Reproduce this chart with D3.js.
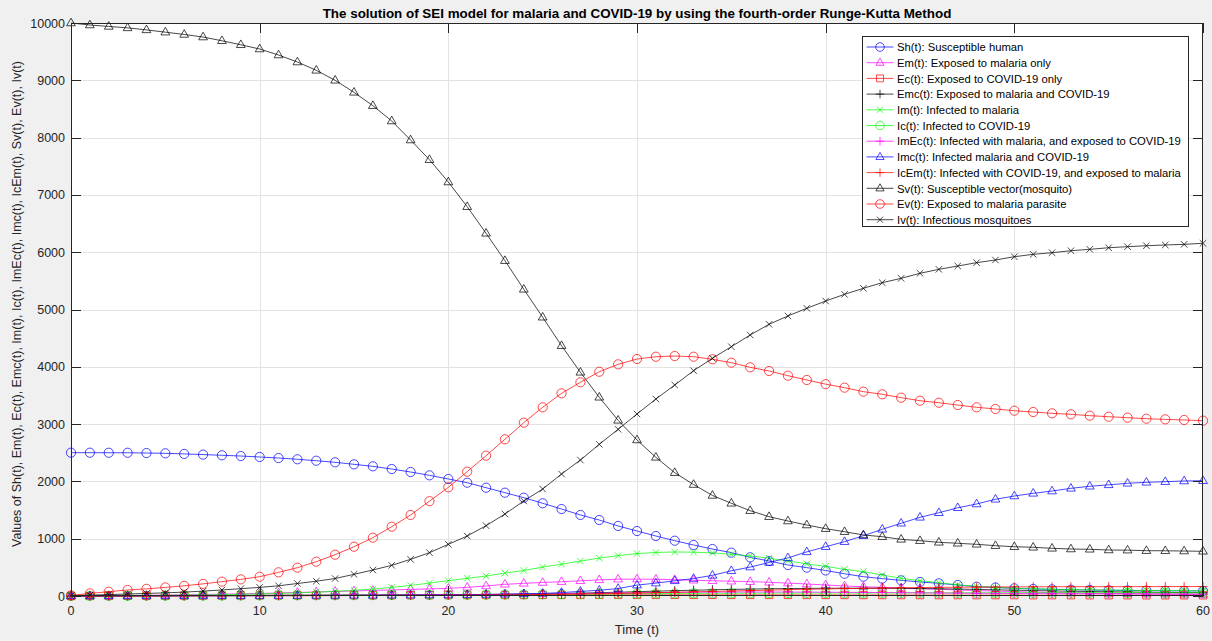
<!DOCTYPE html>
<html>
<head>
<meta charset="utf-8">
<script src="https://cdn.jsdelivr.net/npm/d3@7"></script>
<style>
  body { margin: 0; background: #f0f0f0; }
  svg { display: block; font-family: "Liberation Sans", Arial, Helvetica, sans-serif; }
</style>
</head>
<body>
<div id="chart"></div>
<script>
// time steps (t = 0 .. 60)
var time = d3.range(0, 61);
var xTicks = [0, 10, 20, 30, 40, 50, 60];
var yTicks = [0, 1000, 2000, 3000, 4000, 5000, 6000, 7000, 8000, 9000, 10000];

// values
var Sh = [2501,2501,2500,2500,2495,2490,2480,2468,2456,2443,2426,2408,2386,2361,2333,2298,2263,2216,2164,2106,
  2042,1977,1890,1803,1716,1618,1518,1414,1326,1222,1134,1047,965,890,820,756,675,611,541,495,
  445,388,337,303,273,245,221,192,162,148,134,122,116,110,105,100,97,94,91,89,87];
var Em = [0,2,5,8,12,16,21,26,32,38,45,53,61,70,79,88,97,106,115,124,
  134,151,175,204,221,235,250,265,282,293,295,292,285,275,266,258,250,239,225,210,
  192,175,162,150,140,128,117,105,95,85,76,68,61,55,50,45,41,37,33,30,28];
var Ec = [0,1,2,3,4,5,6,7,8,9,10,11,12,12,13,14,14,15,16,16,
  17,17,18,18,18,19,19,19,20,20,20,20,20,20,20,19,19,19,19,18,
  18,18,17,17,17,16,16,16,15,15,15,14,14,14,13,13,13,12,12,12,12];
var Emc = [0,1,2,3,4,5,6,7,8,9,10,11,12,13,14,15,16,17,18,20,
  22,24,27,30,34,38,43,50,58,66,75,84,93,101,108,115,121,126,130,133,
  135,136,136,135,133,130,126,121,115,108,101,95,89,83,78,74,70,66,63,60,58];
var Im = [0,2,4,6,8,11,14,18,23,29,36,45,55,67,82,100,122,150,185,225,
  267,309,349,400,445,505,555,610,660,705,740,760,768,765,752,728,698,660,611,560,
  517,466,424,366,309,267,232,195,170,150,135,125,118,112,107,103,100,97,95,93,91];
var Ic = [0,1,2,3,4,5,6,7,8,9,10,11,12,13,14,15,16,17,18,19,
  20,22,24,26,28,30,32,34,36,39,42,44,46,47,48,49,50,51,51,52,
  52,53,53,54,54,55,55,55,56,56,56,56,56,56,56,55,55,55,55,55,55];
var ImEc = [0,1,2,3,4,5,6,7,8,9,10,11,12,13,14,15,16,18,19,21,
  23,25,27,30,33,36,40,44,48,52,56,60,63,66,68,69,70,70,69,68,
  66,64,62,60,57,55,52,50,48,46,44,42,41,40,39,38,37,36,35,34,33];
var Imc = [0,0,1,1,2,2,3,3,4,5,6,7,8,9,10,11,12,14,15,17,
  19,22,26,31,37,45,60,80,100,130,190,225,265,305,360,440,505,585,665,770,
  860,948,1052,1164,1269,1373,1453,1540,1606,1688,1745,1792,1832,1879,1915,1940,1967,1984,1995,2007,2012];
var IcEm = [0,0,1,1,1,2,2,3,3,4,4,5,5,6,7,8,9,10,11,12,
  14,16,18,20,23,26,30,35,40,46,52,58,65,72,80,88,95,102,110,117,
  123,129,134,139,143,147,150,153,155,157,159,160,161,162,162,163,163,164,164,165,165];
var Sv = [10000,9965,9940,9915,9880,9840,9800,9755,9690,9620,9546,9441,9319,9174,9000,8790,8557,8290,7958,7614,
  7225,6794,6330,5852,5352,4865,4368,3904,3468,3066,2723,2420,2152,1945,1755,1618,1489,1384,1309,1239,
  1175,1122,1065,1035,989,965,937,920,902,878,860,850,832,820,815,803,800,791,789,785,780];
var Ev = [10,45,75,105,125,150,178,212,250,290,337,413,494,599,721,860,1018,1210,1414,1655,
  1897,2170,2449,2735,3025,3293,3537,3729,3914,4043,4136,4176,4188,4176,4131,4072,3991,3927,3845,3770,
  3697,3636,3566,3520,3461,3408,3373,3333,3293,3264,3234,3211,3188,3171,3147,3129,3112,3094,3083,3072,3060];
var Iv = [5,15,25,35,45,55,68,85,105,128,150,178,218,258,305,378,454,535,640,756,
  902,1047,1227,1431,1658,1867,2129,2373,2647,2909,3176,3438,3682,3932,4148,4351,4555,4742,4887,5021,
  5148,5265,5370,5468,5544,5632,5701,5759,5817,5864,5921,5963,5991,6026,6050,6078,6096,6113,6126,6137,6155];

var seriesNames = [
  'Sh(t): Susceptible human',
  'Em(t): Exposed to malaria only',
  'Ec(t): Exposed to COVID-19 only',
  'Emc(t): Exposed to malaria and COVID-19',
  'Im(t): Infected to malaria',
  'Ic(t): Infected to COVID-19',
  'ImEc(t): Infected with malaria, and exposed to COVID-19',
  'Imc(t): Infected malaria and COVID-19',
  'IcEm(t): Infected with COVID-19, and exposed to malaria',
  'Sv(t): Susceptible vector(mosquito)',
  'Ev(t): Exposed to malaria parasite',
  'Iv(t): Infectious mosquitoes'
];

var width = 1212, height = 641;
var margin = {top: 23, right: 9, bottom: 45, left: 71};

var series = [
  {values: Sh,   color: '#0000ff', marker: 'o'},
  {values: Em,   color: '#ff00ff', marker: '^'},
  {values: Ec,   color: '#ff0000', marker: 's'},
  {values: Emc,  color: '#000000', marker: '+'},
  {values: Im,   color: '#00ff00', marker: 'x'},
  {values: Ic,   color: '#00ff00', marker: 'o'},
  {values: ImEc, color: '#ff00ff', marker: '+'},
  {values: Imc,  color: '#0000ff', marker: '^'},
  {values: IcEm, color: '#ff0000', marker: '+'},
  {values: Sv,   color: '#000000', marker: '^'},
  {values: Ev,   color: '#ff0000', marker: 'o'},
  {values: Iv,   color: '#000000', marker: 'x'}
];
series.forEach(function(s, i) { s.name = seriesNames[i]; });

var svg = d3.select('#chart').append('svg')
  .attr('width', width)
  .attr('height', height);

svg.append('rect').attr('width', width).attr('height', height).attr('fill', '#f0f0f0');

var x = d3.scaleLinear().domain([0, 60]).range([margin.left, width - margin.right]);
var y = d3.scaleLinear().domain([0, 10000]).range([height - margin.bottom, margin.top]);

var x0 = x.range()[0], x1 = x.range()[1], y0 = y.range()[0], y1 = y.range()[1];

// plot area
svg.append('rect')
  .attr('x', x0).attr('y', y1)
  .attr('width', x1 - x0).attr('height', y0 - y1)
  .attr('fill', '#ffffff');

// grid
var grid = svg.append('g').attr('stroke', '#e3e3e3').attr('stroke-width', 1);
grid.selectAll('.gx').data(xTicks.slice(1, -1)).enter().append('line')
  .attr('x1', d => Math.round(x(d)) + 0.5).attr('x2', d => Math.round(x(d)) + 0.5)
  .attr('y1', y1).attr('y2', y0);
grid.selectAll('.gy').data(yTicks.slice(1, -1)).enter().append('line')
  .attr('y1', d => Math.round(y(d)) + 0.5).attr('y2', d => Math.round(y(d)) + 0.5)
  .attr('x1', x0).attr('x2', x1);

// marker shapes, matlab style
function markerPath(m, r) {
  if (m === 'o') return d3.symbol().type(d3.symbolCircle).size(Math.PI * r * r)();
  if (m === '^') return 'M0,' + (-r * 1.05) + 'L' + (r * 0.95) + ',' + (r * 0.6) + 'L' + (-r * 0.95) + ',' + (r * 0.6) + 'Z';
  if (m === 's') return 'M' + (-r * 0.8) + ',' + (-r * 0.8) + 'h' + (r * 1.6) + 'v' + (r * 1.6) + 'h' + (-r * 1.6) + 'Z';
  if (m === '+') return 'M' + (-r) + ',0H' + r + 'M0,' + (-r) + 'V' + r;
  if (m === 'x') return 'M' + (-r * 0.7) + ',' + (-r * 0.7) + 'L' + (r * 0.7) + ',' + (r * 0.7) +
    'M' + (-r * 0.7) + ',' + (r * 0.7) + 'L' + (r * 0.7) + ',' + (-r * 0.7);
}

var line = d3.line()
  .x(function(d, i) { return x(time[i]); })
  .y(function(d) { return y(d); });

var plot = svg.append('g');
series.forEach(function(s) {
  var g = plot.append('g');
  g.append('path')
    .attr('d', line(s.values))
    .attr('fill', 'none')
    .attr('stroke', s.color)
    .attr('stroke-opacity', 0.8)
    .attr('stroke-width', 0.9);
  g.selectAll('.m').data(s.values).enter().append('path')
    .attr('transform', function(d, i) { return 'translate(' + x(time[i]) + ',' + y(d) + ')'; })
    .attr('d', markerPath(s.marker, 4.6))
    .attr('fill', 'none')
    .attr('stroke', s.color)
    .attr('stroke-opacity', 0.8)
    .attr('stroke-width', 0.9);
});

// axes box + ticks (inward, on all four sides)
var axisColor = '#262626';
var ax = svg.append('g').attr('stroke', axisColor).attr('stroke-width', 1).attr('fill', 'none');
ax.append('rect')
  .attr('x', x0 + 0.5).attr('y', y1 + 0.5)
  .attr('width', x1 - x0 - 1).attr('height', y0 - y1 - 1);
xTicks.forEach(function(t) {
  var px = Math.round(x(t)) + 0.5;
  ax.append('line').attr('x1', px).attr('x2', px).attr('y1', y0).attr('y2', y0 - 10);
  ax.append('line').attr('x1', px).attr('x2', px).attr('y1', y1).attr('y2', y1 + 10);
});
yTicks.forEach(function(t) {
  var py = Math.round(y(t)) + 0.5;
  ax.append('line').attr('x1', x0).attr('x2', x0 + 10).attr('y1', py).attr('y2', py);
  ax.append('line').attr('x1', x1).attr('x2', x1 - 10).attr('y1', py).attr('y2', py);
});

// tick labels
svg.append('g').selectAll('text').data(xTicks).enter().append('text')
  .attr('x', d => x(d)).attr('y', y0 + 19)
  .attr('text-anchor', 'middle')
  .attr('font-size', '12.5px').attr('fill', axisColor)
  .text(d => d);
svg.append('g').selectAll('text').data(yTicks).enter().append('text')
  .attr('x', x0 - 6).attr('y', d => y(d) + 4.5)
  .attr('text-anchor', 'end')
  .attr('font-size', '12.5px').attr('fill', axisColor)
  .text(d => d);

// labels + title
svg.append('text')
  .attr('x', (x0 + x1) / 2).attr('y', 634)
  .attr('text-anchor', 'middle')
  .attr('font-size', '13px').attr('fill', axisColor)
  .text('Time (t)');
svg.append('text')
  .attr('transform', 'translate(21,' + 304 + ') rotate(-90)')
  .attr('text-anchor', 'middle')
  .attr('font-size', '12.5px').attr('fill', axisColor)
  .text('Values of Sh(t), Em(t), Ec(t), Emc(t), Im(t), Ic(t), ImEc(t), Imc(t), IcEm(t), Sv(t), Ev(t), Iv(t)');
svg.append('text')
  .attr('x', (x0 + x1) / 2).attr('y', 18)
  .attr('text-anchor', 'middle')
  .attr('font-size', '13.4px').attr('font-weight', 'bold').attr('fill', '#000')
  .text('The solution of SEI model for malaria and COVID-19 by using the fourth-order Runge-Kutta Method');

// legend
var legend = svg.append('g').attr('transform', 'translate(862.5,36.5)');
legend.append('rect')
  .attr('width', 326).attr('height', 190)
  .attr('fill', '#ffffff').attr('stroke', axisColor).attr('stroke-width', 1);
series.forEach(function(s, i) {
  var ly = 10.5 + i * 15.7;
  var g = legend.append('g').attr('transform', 'translate(0,' + ly + ')');
  g.append('line').attr('x1', 4).attr('x2', 31).attr('y1', 0).attr('y2', 0)
    .attr('stroke', s.color).attr('stroke-opacity', 0.8).attr('stroke-width', 0.9);
  g.append('path').attr('transform', 'translate(17.5,0)')
    .attr('d', markerPath(s.marker, 4.3))
    .attr('fill', 'none').attr('stroke', s.color).attr('stroke-opacity', 0.8).attr('stroke-width', 0.9);
  g.append('text').attr('x', 34.5).attr('y', 4.2)
    .attr('font-size', '11.25px').attr('fill', '#000')
    .text(s.name);
});
</script>
</body>
</html>
